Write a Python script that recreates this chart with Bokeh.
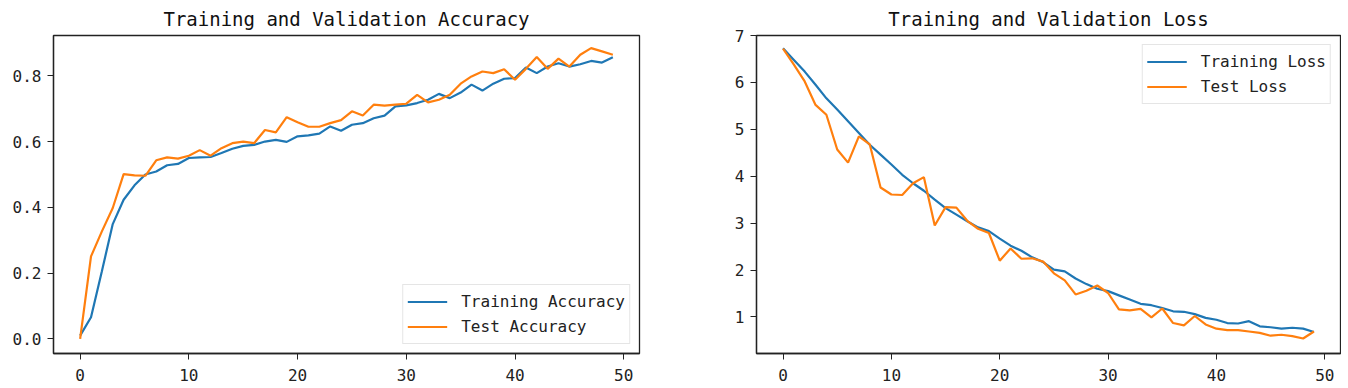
from bokeh.plotting import figure
from bokeh.layouts import row
from bokeh.models import Range1d, FixedTicker, Legend, LegendItem, CustomJSTickFormatter
from bokeh.embed import file_html
from bokeh.resources import INLINE

epochs = list(range(50))

train_acc = [0.01, 0.066, 0.206, 0.349, 0.423, 0.467, 0.500, 0.509, 0.528, 0.532,
             0.550, 0.552, 0.553, 0.565, 0.578, 0.587, 0.590, 0.600, 0.605, 0.599,
             0.616, 0.619, 0.624, 0.646, 0.633, 0.651, 0.656, 0.671, 0.679, 0.707,
             0.710, 0.717, 0.727, 0.745, 0.732, 0.749, 0.773, 0.755, 0.776, 0.791,
             0.793, 0.825, 0.808, 0.828, 0.838, 0.828, 0.835, 0.845, 0.840, 0.856]
test_acc = [0.0, 0.251, 0.327, 0.398, 0.501, 0.497, 0.496, 0.543, 0.552, 0.548,
            0.557, 0.574, 0.557, 0.580, 0.595, 0.600, 0.595, 0.635, 0.628, 0.674,
            0.659, 0.645, 0.645, 0.656, 0.665, 0.692, 0.679, 0.712, 0.709, 0.712,
            0.715, 0.742, 0.719, 0.727, 0.742, 0.776, 0.798, 0.813, 0.808, 0.820,
            0.788, 0.821, 0.857, 0.821, 0.852, 0.828, 0.864, 0.884, 0.874, 0.864]

train_loss = [6.73, 6.48, 6.23, 5.95, 5.66, 5.42, 5.17, 4.92, 4.67, 4.46,
              4.25, 4.03, 3.85, 3.69, 3.50, 3.32, 3.18, 3.04, 2.91, 2.83,
              2.67, 2.52, 2.41, 2.27, 2.17, 2.01, 1.97, 1.82, 1.70, 1.60,
              1.55, 1.46, 1.37, 1.28, 1.25, 1.19, 1.12, 1.11, 1.06, 0.98,
              0.94, 0.87, 0.86, 0.91, 0.80, 0.78, 0.75, 0.77, 0.75, 0.68]
test_loss = [6.72, 6.38, 6.02, 5.52, 5.31, 4.57, 4.29, 4.85, 4.68, 3.76,
             3.61, 3.60, 3.85, 3.98, 2.95, 3.34, 3.33, 3.05, 2.88, 2.79,
             2.20, 2.46, 2.24, 2.25, 2.18, 1.93, 1.78, 1.48, 1.56, 1.67,
             1.51, 1.16, 1.14, 1.17, 0.99, 1.18, 0.87, 0.82, 1.02, 0.84,
             0.75, 0.72, 0.72, 0.69, 0.66, 0.60, 0.62, 0.59, 0.54, 0.69]

x_ticks = [0, 10, 20, 30, 40, 50]
acc_ticks = [0.0, 0.2, 0.4, 0.6, 0.8]
loss_ticks = [1, 2, 3, 4, 5, 6, 7]

BLUE = "#1f77b4"
ORANGE = "#ff7f0e"
FONT = "DejaVu Sans Mono"


def make_fig(title, y_range, ylabels_fmt, yticks, items, legend_loc, ml, mr, fw):
    p = figure(frame_width=fw, frame_height=318,
               min_border_left=ml, min_border_right=mr,
               min_border_top=34, min_border_bottom=36,
               x_range=Range1d(-2.45, 51.45), y_range=y_range,
               output_backend="svg", toolbar_location=None, title=title)
    p.title.text_font = FONT
    p.title.text_font_size = "19px"
    p.title.text_font_style = "normal"
    p.title.align = "center"
    p.title.text_color = "#111111"
    p.title.standoff = 11
    p.grid.visible = False
    p.outline_line_color = "#222222"
    p.outline_line_width = 1.3
    p.outline_line_alpha = 1.0
    for ax in (p.xaxis[0], p.yaxis[0]):
        ax.major_tick_out = 6
        ax.major_tick_in = 0
        ax.minor_tick_line_color = None
        ax.major_tick_line_color = "#222222"
        ax.axis_line_color = "#222222"
        ax.axis_line_width = 1.3
        ax.major_label_text_font = FONT
        ax.major_label_text_font_size = "16px"
        ax.major_label_text_color = "#222222"
    p.xaxis.ticker = FixedTicker(ticks=x_ticks)
    p.yaxis.ticker = FixedTicker(ticks=yticks)
    p.yaxis.formatter = CustomJSTickFormatter(code=ylabels_fmt)
    p.xaxis.major_label_standoff = 9
    p.yaxis.major_label_standoff = 6

    rends = []
    for ys, color, label in items:
        r = p.line(epochs, ys, line_color=color, line_width=2.2)
        rends.append(LegendItem(label=label, renderers=[r]))
    leg = Legend(items=rends, location=legend_loc)
    leg.label_text_font = FONT
    leg.label_text_font_size = "16px"
    leg.label_text_color = "#222222"
    leg.glyph_width = 40
    leg.glyph_height = 25
    leg.label_height = 25
    leg.label_standoff = 14
    leg.padding = 4
    leg.spacing = 0
    leg.margin = 9
    leg.border_line_color = "#cccccc"
    leg.border_line_width = 1
    leg.background_fill_alpha = 0.8
    p.add_layout(leg, "center")
    return p


p1 = make_fig("Training and Validation Accuracy", Range1d(-0.0443, 0.9224),
              "return tick.toFixed(1);", acc_ticks,
              [(train_acc, BLUE, "Training Accuracy"), (test_acc, ORANGE, "Test Accuracy")],
              "bottom_right", 53, 59, 586)
p2 = make_fig("Training and Validation Loss", Range1d(0.2205, 7.0),
              "return tick.toFixed(0);", loss_ticks,
              [(train_loss, BLUE, "Training Loss"), (test_loss, ORANGE, "Test Loss")],
              "top_right", 58, 1, 584)

layout = row(p1, p2)
open("out.html", "w").write(file_html(layout, INLINE))
